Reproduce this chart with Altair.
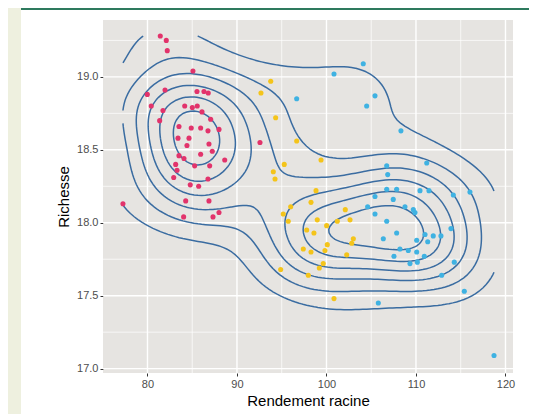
import math
from collections import defaultdict
import numpy as np
import pandas as pd
import altair as alt

# ---------------- data ----------------
red_x = [81.43, 82.10, 82.21, 85.08, 79.98, 81.96, 85.53, 86.31, 86.79, 80.42, 81.73, 84.16,
         85.01, 85.56, 86.09, 81.36, 87.06, 83.52, 84.89, 85.94, 86.76, 87.99, 83.41, 84.64,
         84.41, 86.87, 87.24, 83.52, 84.08, 85.94, 88.63, 83.15, 85.27, 86.95, 83.30, 82.93,
         86.76, 84.78, 85.72, 84.27, 86.87, 77.26, 84.04, 87.32, 87.99, 92.57]
red_y = [19.28, 19.25, 19.18, 19.04, 18.88, 18.91, 18.90, 18.90, 18.89, 18.80, 18.77, 18.80,
         18.79, 18.80, 18.76, 18.70, 18.71, 18.66, 18.65, 18.65, 18.63, 18.64, 18.58, 18.58,
         18.53, 18.54, 18.49, 18.46, 18.44, 18.47, 18.43, 18.40, 18.39, 18.39, 18.36, 18.31,
         18.30, 18.26, 18.25, 18.15, 18.15, 18.13, 18.04, 18.04, 18.07, 18.55]

yellow_x = [93.77, 92.68, 94.32, 96.67, 99.39, 95.28, 94.06, 94.25, 98.83, 98.27, 96.00, 95.17,
            95.73, 98.97, 100.02, 102.10, 101.21, 102.63, 97.79, 98.60, 103.00, 102.82, 100.09,
            99.83, 97.41, 98.27, 102.26, 99.64, 99.20, 94.88, 97.97, 100.84]
yellow_y = [18.97, 18.89, 18.72, 18.56, 18.43, 18.40, 18.35, 18.30, 18.22, 18.14, 18.11, 18.06,
            18.01, 18.02, 17.98, 18.09, 18.01, 18.02, 17.95, 17.93, 17.89, 17.86, 17.85,
            17.81, 17.82, 17.80, 17.78, 17.72, 17.69, 17.68, 17.64, 17.48]

blue_x = [104.11, 100.84, 96.67, 105.42, 104.49, 108.32, 111.20, 106.73, 106.84, 106.73, 107.84,
          110.45, 111.45, 114.17, 116.03, 105.42, 107.46, 108.77, 109.70, 109.89, 104.60, 105.42,
          106.73, 113.91, 107.84, 106.35, 110.08, 111.01, 111.93, 112.79, 111.31, 108.21, 109.14,
          110.08, 107.54, 110.93, 109.33, 110.15, 114.28, 112.87, 115.40, 105.79, 118.72]
blue_y = [19.09, 19.02, 18.85, 18.87, 18.80, 18.63, 18.41, 18.39, 18.33, 18.23, 18.23,
          18.22, 18.22, 18.19, 18.21, 18.18, 18.16, 18.11, 18.09, 18.07, 18.11, 18.06,
          18.01, 17.96, 17.93, 17.89, 17.88, 17.92, 17.91, 17.91, 17.87, 17.82, 17.81,
          17.80, 17.77, 17.77, 17.72, 17.73, 17.73, 17.64, 17.53, 17.45, 17.09]

group_names = ["Groupe 1", "Groupe 2", "Groupe 3"]
group_colors = ["#E2336B", "#F4C41A", "#3FB2E2"]

x_ticks = [80, 90, 100, 110, 120]
x_minor = [85, 95, 105, 115]
y_ticks = [17.0, 17.5, 18.0, 18.5, 19.0]
y_minor = [17.25, 17.75, 18.25, 18.75, 19.25]

X_DOMAIN = [75.03, 120.84]
Y_DOMAIN = [16.97, 19.39]

# ---------------- tables ----------------
pts = pd.DataFrame({
    "x": red_x + yellow_x + blue_x,
    "y": red_y + yellow_y + blue_y,
    "g": [group_names[0]] * len(red_x) + [group_names[1]] * len(yellow_x) + [group_names[2]] * len(blue_x),
})

# 2D kernel density (as MASS::kde2d with bandwidth.nrd, n = 100) of the points
xs = pts["x"].to_numpy(float)
ys = pts["y"].to_numpy(float)
n = len(xs)


def bw_nrd(v):
    q1, q3 = np.quantile(v, [0.25, 0.75])
    return 4 * 1.06 * min(np.std(v, ddof=1), (q3 - q1) / 1.34) * len(v) ** (-0.2)


hx = bw_nrd(xs) / 4
hy = bw_nrd(ys) / 4
gx = np.linspace(xs.min(), xs.max(), 100)
gy = np.linspace(ys.min(), ys.max(), 100)


def phi(u):
    return np.exp(-0.5 * u * u) / math.sqrt(2 * math.pi)


kx = phi((gx[:, None] - xs[None, :]) / hx)
ky = phi((gy[:, None] - ys[None, :]) / hy)
z = kx @ ky.T / (n * hx * hy)


def r_pretty(lo, up, ndiv=10):
    h = 1.5
    h5 = 0.5 + 1.5 * h
    dx = up - lo
    cell = dx / ndiv
    base = 10 ** math.floor(math.log10(cell))
    unit = base
    if 2 * base - cell < h * (cell - unit):
        unit = 2 * base
        if 5 * base - cell < h5 * (cell - unit):
            unit = 5 * base
            if 10 * base - cell < h * (cell - unit):
                unit = 10 * base
    ns = math.floor(lo / unit + 1e-7)
    nu = math.ceil(up / unit - 1e-7)
    return [k * unit for k in range(ns, nu + 1)]


levels = [l for l in r_pretty(float(z.min()), float(z.max())) if z.min() < l < z.max()]


def edge_point(key, lev):
    kind, i, j = key
    if kind == "h":
        z0, z1 = z[i, j], z[i + 1, j]
        t = (lev - z0) / (z1 - z0)
        return gx[i] + t * (gx[i + 1] - gx[i]), gy[j]
    z0, z1 = z[i, j], z[i, j + 1]
    t = (lev - z0) / (z1 - z0)
    return gx[i], gy[j] + t * (gy[j + 1] - gy[j])


def contour_chains(lev):
    above = z >= lev
    nx, ny = z.shape
    segs = []
    for i in range(nx - 1):
        for j in range(ny - 1):
            A, B, C, D = above[i, j], above[i + 1, j], above[i + 1, j + 1], above[i, j + 1]
            if A == B == C == D:
                continue
            bottom, right, top, left = ("h", i, j), ("v", i + 1, j), ("h", i, j + 1), ("v", i, j)
            cr = []
            if A != B:
                cr.append(bottom)
            if B != C:
                cr.append(right)
            if C != D:
                cr.append(top)
            if D != A:
                cr.append(left)
            if len(cr) == 2:
                segs.append((cr[0], cr[1]))
            else:
                center = (z[i, j] + z[i + 1, j] + z[i + 1, j + 1] + z[i, j + 1]) / 4
                if (center >= lev) == A:
                    segs.append((bottom, right))
                    segs.append((top, left))
                else:
                    segs.append((left, bottom))
                    segs.append((right, top))
    adj = defaultdict(list)
    for k, (e1, e2) in enumerate(segs):
        adj[e1].append(k)
        adj[e2].append(k)
    used = [False] * len(segs)
    chains = []
    for k in range(len(segs)):
        if used[k]:
            continue
        used[k] = True
        e1, e2 = segs[k]
        chain = [e1, e2]
        for direction in (1, -1):
            cur = e2 if direction == 1 else e1
            while True:
                nxt = None
                for s in adj[cur]:
                    if not used[s]:
                        nxt = s
                        break
                if nxt is None:
                    break
                used[nxt] = True
                a, b = segs[nxt]
                cur = b if a == cur else a
                if direction == 1:
                    chain.append(cur)
                else:
                    chain.insert(0, cur)
        chains.append(chain)
    return chains


rows = []
pid = 0
for lev in levels:
    for chain in contour_chains(lev):
        for o, key in enumerate(chain):
            px, py = edge_point(key, lev)
            rows.append({"x": float(px), "y": float(py), "path": pid, "ord": o})
        pid += 1
contours = pd.DataFrame(rows)

# ---------------- chart ----------------
xs_scale = alt.Scale(domain=X_DOMAIN, nice=False, zero=False)
ys_scale = alt.Scale(domain=Y_DOMAIN, nice=False, zero=False)

x_axis = alt.Axis(values=x_ticks, format="d", title="Rendement racine", titlePadding=4, labelPadding=2)
y_axis = alt.Axis(values=y_ticks, format=".1f", title="Richesse", titlePadding=5, labelPadding=2)

X = alt.X("x:Q", scale=xs_scale, axis=x_axis)
Y = alt.Y("y:Q", scale=ys_scale, axis=y_axis)

minor_v = alt.Chart(pd.DataFrame({"x": x_minor})).mark_rule(color="white", strokeWidth=0.7).encode(x=X)
minor_h = alt.Chart(pd.DataFrame({"y": y_minor})).mark_rule(color="white", strokeWidth=0.7).encode(y=Y)
major_v = alt.Chart(pd.DataFrame({"x": x_ticks})).mark_rule(color="white", strokeWidth=1.4).encode(x=X)
major_h = alt.Chart(pd.DataFrame({"y": y_ticks})).mark_rule(color="white", strokeWidth=1.4).encode(y=Y)

lines = alt.Chart(contours).mark_line(color="#3A6CA1", strokeWidth=1.5).encode(
    x=X, y=Y, detail="path:N", order="ord:Q",
)

points = alt.Chart(pts).mark_circle(size=26, opacity=1).encode(
    x=X, y=Y,
    color=alt.Color("g:N", scale=alt.Scale(domain=group_names, range=group_colors), legend=None),
)

deco = pd.DataFrame({"a": [0]})
left_strip = alt.Chart(deco).mark_rect(color="#EEF0DF").encode(
    x=alt.value(-95), x2=alt.value(-82), y=alt.value(-12), y2=alt.value(394))
top_line = alt.Chart(deco).mark_rect(color="#2E7A5E").encode(
    x=alt.value(-82), x2=alt.value(430), y=alt.value(-12), y2=alt.value(-10))

chart = alt.layer(minor_v, minor_h, major_v, major_h, lines, points, left_strip, top_line).properties(
    width=410,
    height=353,
    padding={"left": 95, "top": 12, "right": 16, "bottom": 41},
    autosize=alt.AutoSizeParams(type="none"),
    background="white",
).configure_view(
    fill="#E6E4E1", stroke=None
).configure_axis(
    labelFont="Liberation Sans", titleFont="Liberation Sans",
    labelFontSize=11, labelColor="#4D4D4D",
    tickColor="#333333", tickSize=3, domain=False, grid=False,
    titleFontSize=15, titleFontWeight="normal", titleColor="#000000",
)

chart.save("out.html", embed_options={"renderer": "svg", "actions": False})
